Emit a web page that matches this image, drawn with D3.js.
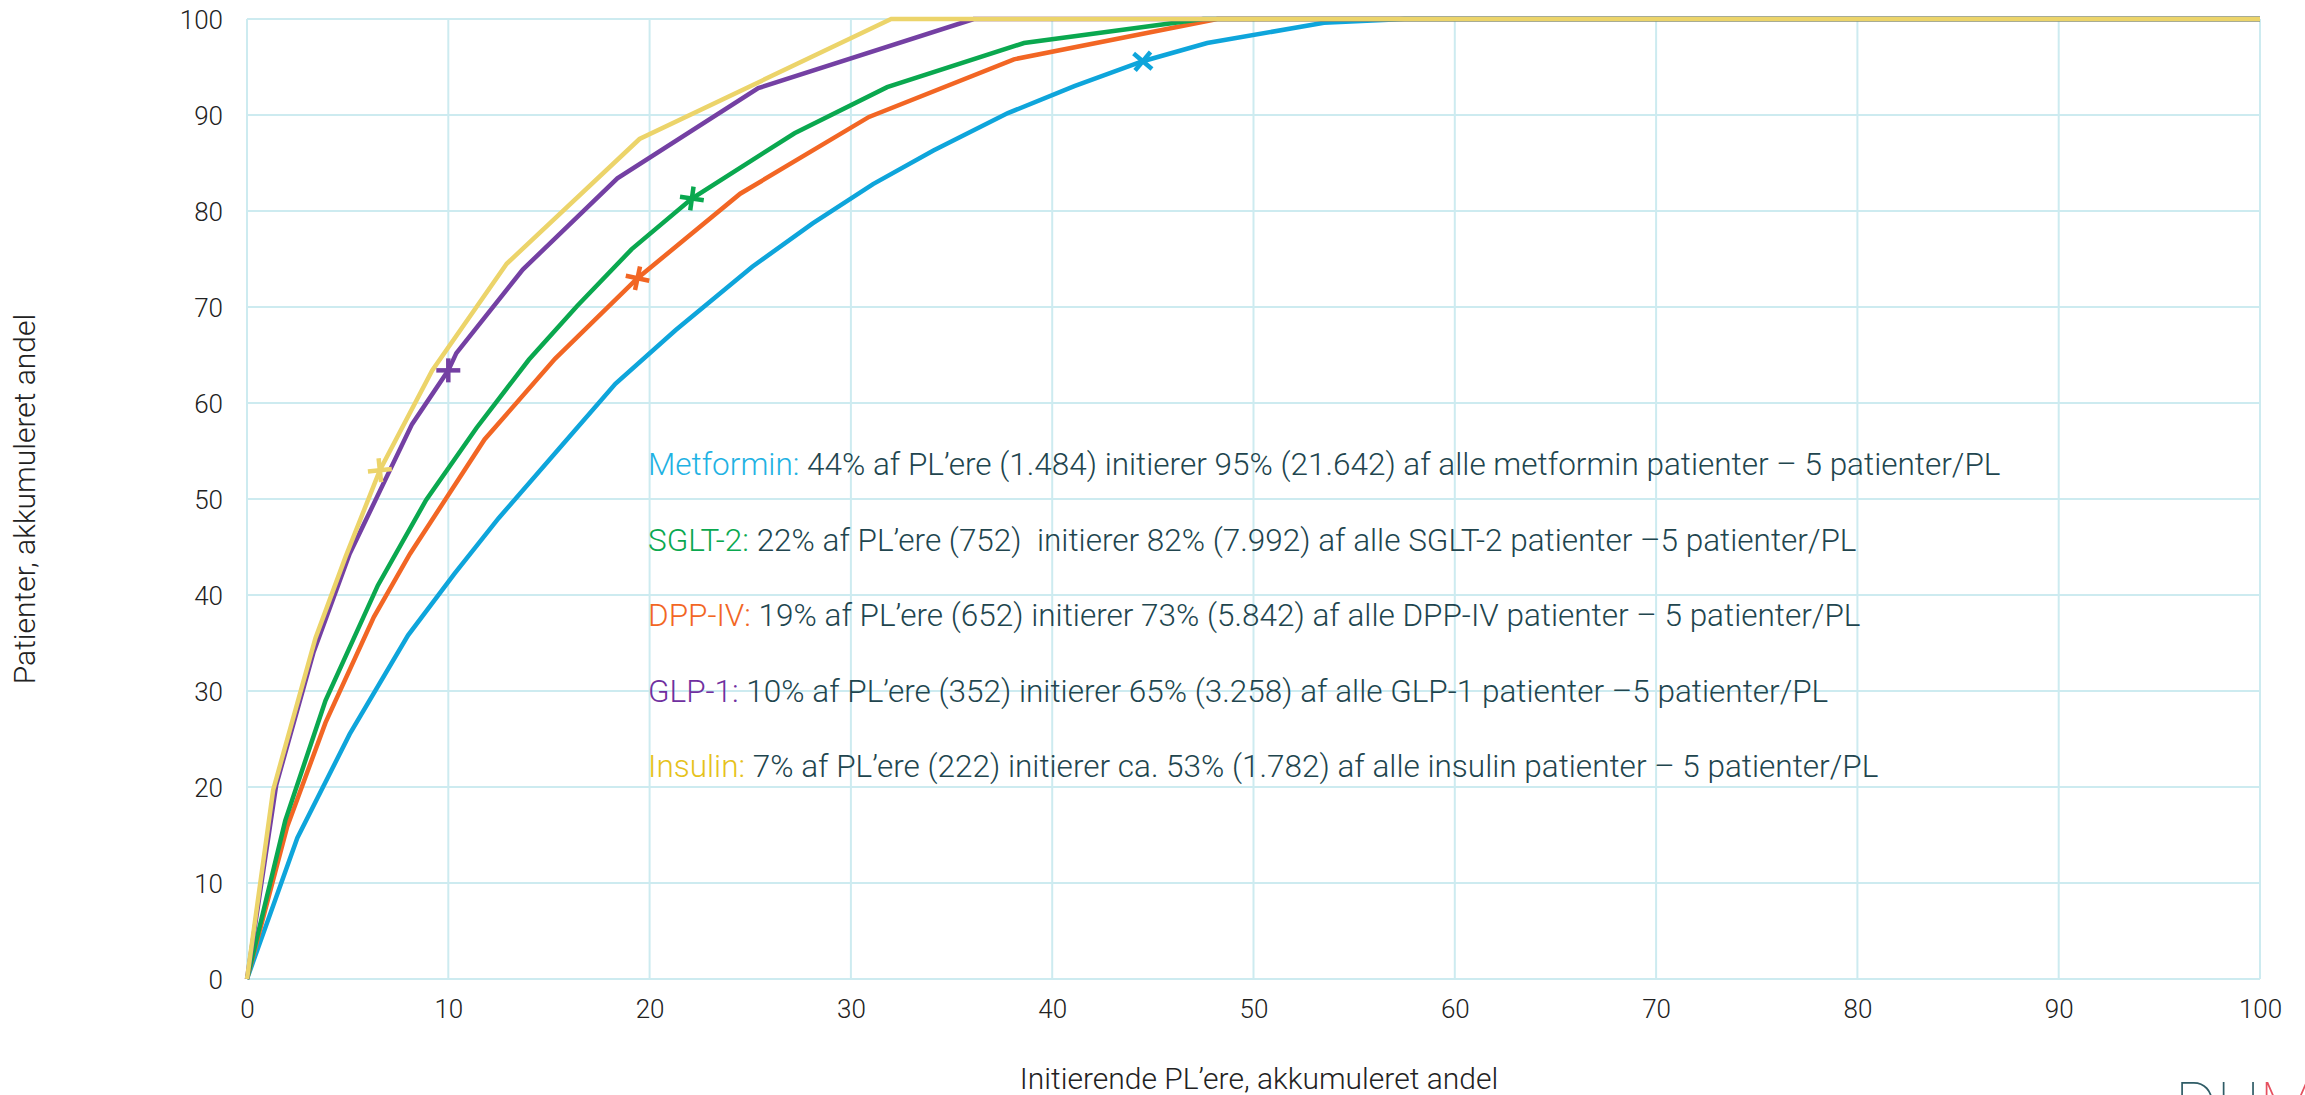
<!DOCTYPE html>
<html>
<head>
<meta charset="utf-8">
<script src="https://cdn.jsdelivr.net/npm/d3@7/dist/d3.min.js"></script>
<style>
  html, body { margin: 0; padding: 0; background: #ffffff; }
  svg { display: block; }
  text { font-family: Roboto, "Liberation Sans", sans-serif; }
</style>
</head>
<body>
<svg id="chart" width="2305" height="1095"></svg>
<script>
// ---- data (cumulative share of prescribers (x) vs cumulative share of patients (y)) ----
const xTicks = [0, 10, 20, 30, 40, 50, 60, 70, 80, 90, 100];
const yTicks = [0, 10, 20, 30, 40, 50, 60, 70, 80, 90, 100];

const seriesNames = ["Metformin", "DPP-IV", "SGLT-2", "GLP-1", "Insulin"];

const metforminX = [0, 2.5, 5.1, 8.0, 10.3, 12.5, 15.4, 18.3, 21.3, 25.1, 28.1, 31.1, 34.1, 37.8, 41.1, 44.5, 47.7, 53.5, 57.5, 100];
const metforminY = [0, 14.7, 25.5, 35.8, 42.2, 48.0, 55.0, 62.0, 67.6, 74.2, 78.7, 82.8, 86.3, 90.2, 93.0, 95.6, 97.5, 99.6, 100, 100];

const dppX = [0, 2.0, 3.9, 6.3, 8.1, 11.8, 15.3, 19.4, 24.5, 30.9, 38.1, 48.2, 100];
const dppY = [0, 15.9, 26.7, 37.7, 44.3, 56.2, 64.6, 73.0, 81.8, 89.8, 95.8, 100, 100];

const sgltX = [0, 1.9, 3.9, 6.5, 8.9, 11.4, 14.0, 16.4, 19.1, 22.1, 27.2, 31.8, 38.6, 47.5, 100];
const sgltY = [0, 16.5, 29.0, 41.0, 49.9, 57.4, 64.5, 70.1, 76.0, 81.3, 88.1, 92.9, 97.5, 100, 100];

const glpX = [0, 1.45, 3.3, 5.1, 8.2, 10.0, 10.4, 13.7, 18.4, 25.4, 36.1, 100];
const glpY = [0, 20.2, 34.0, 44.3, 57.8, 63.4, 65.2, 73.9, 83.4, 92.8, 100, 100];

const insulinX = [0, 1.3, 3.4, 4.9, 6.6, 9.2, 12.9, 19.5, 32.0, 100];
const insulinY = [0, 19.7, 35.5, 44.0, 53.0, 63.4, 74.5, 87.5, 100, 100];

// highlighted points (marker) per series
const markerX = [44.5, 19.4, 22.1, 10.0, 6.6];
const markerY = [95.6, 73.0, 81.3, 63.4, 53.0];

// annotation lines
const noteLabels = ["Metformin:", "SGLT-2:", "DPP-IV:", "GLP-1:", "Insulin:"];
const noteTexts = [
  " 44% af PL\u2019ere (1.484) initierer 95% (21.642) af alle metformin patienter \u2013 5 patienter/PL",
  " 22% af PL\u2019ere (752)  initierer 82% (7.992) af alle SGLT-2 patienter \u20135 patienter/PL",
  " 19% af PL\u2019ere (652) initierer 73% (5.842) af alle DPP-IV patienter \u2013 5 patienter/PL",
  " 10% af PL\u2019ere (352) initierer 65% (3.258) af alle GLP-1 patienter \u20135 patienter/PL",
  " 7% af PL\u2019ere (222) initierer ca. 53% (1.782) af alle insulin patienter \u2013 5 patienter/PL"
];

const xTitle = "Initierende PL\u2019ere, akkumuleret andel";
const yTitle = "Patienter, akkumuleret andel";

// ---- styles ----
const lineColors = { "Metformin": "#0ea5db", "DPP-IV": "#f26624", "SGLT-2": "#0aa84f", "GLP-1": "#7440a3", "Insulin": "#ecd46a" };
const noteColors = ["#1fb2e3", "#0aa84f", "#f26624", "#7030a0", "#e6c21c"];
const markerAngles = [40, 12, 8, 0, -6];

const seriesData = [
  { name: "Metformin", xs: metforminX, ys: metforminY },
  { name: "DPP-IV", xs: dppX, ys: dppY },
  { name: "SGLT-2", xs: sgltX, ys: sgltY },
  { name: "GLP-1", xs: glpX, ys: glpY },
  { name: "Insulin", xs: insulinX, ys: insulinY }
];

const svg = d3.select("#chart");
const plotL = 247, plotR = 2260, plotT = 19, plotB = 979;

const xs = d3.scaleLinear().domain([0, 100]).range([plotL, plotR]);
const ys = d3.scaleLinear().domain([0, 100]).range([plotB, plotT]);

// grid
const grid = svg.append("g");
grid.selectAll("line.v").data(xTicks).enter().append("line")
  .attr("x1", d => xs(d)).attr("x2", d => xs(d))
  .attr("y1", ys(0)).attr("y2", ys(100))
  .attr("stroke", "#cdebf0").attr("stroke-width", 2);
grid.selectAll("line.h").data(yTicks).enter().append("line")
  .attr("x1", xs(0)).attr("x2", xs(100))
  .attr("y1", d => ys(d)).attr("y2", d => ys(d))
  .attr("stroke", "#cdebf0").attr("stroke-width", 2);

// axes (labels only)
const xAxis = d3.axisBottom(xs).tickValues(xTicks).tickSize(0).tickPadding(0);
const gx = svg.append("g").attr("transform", `translate(0,${plotB})`).call(xAxis);
gx.select(".domain").remove();
gx.selectAll("text").attr("font-size", 26).attr("font-weight", 300).attr("fill", "#222")
  .attr("font-family", "Roboto, sans-serif").attr("dy", 0).attr("y", 39);

const yAxis = d3.axisLeft(ys).tickValues(yTicks).tickSize(0).tickPadding(0);
const gy = svg.append("g").attr("transform", `translate(223,0)`).call(yAxis);
gy.select(".domain").remove();
gy.selectAll("text").attr("font-size", 26).attr("font-weight", 300).attr("fill", "#222")
  .attr("font-family", "Roboto, sans-serif").attr("x", 0).attr("dy", "0.36em");

// lines
const line = d3.line().x(d => xs(d[0])).y(d => ys(d[1]));
seriesData.forEach(s => {
  const pts = s.xs.map((v, i) => [v, s.ys[i]]);
  svg.append("path").datum(pts)
    .attr("d", line)
    .attr("fill", "none")
    .attr("stroke", lineColors[s.name])
    .attr("stroke-width", 4.5)
    .attr("stroke-linejoin", "miter");
});

// markers (plus-shaped)
seriesData.forEach((s, i) => {
  const g = svg.append("g")
    .attr("transform", `translate(${xs(markerX[i])},${ys(markerY[i])}) rotate(${markerAngles[i]})`);
  g.append("line").attr("x1", -12).attr("x2", 12).attr("y1", 0).attr("y2", 0)
    .attr("stroke", lineColors[s.name]).attr("stroke-width", 4.5);
  g.append("line").attr("x1", 0).attr("x2", 0).attr("y1", -12).attr("y2", 12)
    .attr("stroke", lineColors[s.name]).attr("stroke-width", 4.5);
});

// annotation block
const noteX = 648, noteY0 = 475, noteDy = 75.5;
noteLabels.forEach((lab, i) => {
  const t = svg.append("text")
    .attr("x", noteX).attr("y", noteY0 + i * noteDy)
    .attr("font-size", 31.5).attr("font-weight", 300)
    .attr("xml:space", "preserve")
    .style("white-space", "pre");
  t.append("tspan").attr("fill", noteColors[i]).text(lab);
  t.append("tspan").attr("fill", "#21454e").text(noteTexts[i]);
});

// axis titles
svg.append("text")
  .attr("x", 1259).attr("y", 1089)
  .attr("text-anchor", "middle")
  .attr("font-size", 30).attr("font-weight", 300).attr("fill", "#222")
  .text(xTitle);

svg.append("text")
  .attr("transform", `translate(35,${(plotT + plotB) / 2}) rotate(-90)`)
  .attr("text-anchor", "middle")
  .attr("font-size", 30).attr("font-weight", 300).attr("fill", "#222")
  .text(yTitle);

// partial logo at bottom-right corner
const logo = svg.append("text").attr("x", 2175).attr("y", 1128)
  .attr("font-size", 64).attr("font-weight", 100);
logo.append("tspan").attr("fill", "#2f5c66").text("DU");
logo.append("tspan").attr("fill", "#e5505f").text("MA");
</script>
</body>
</html>
